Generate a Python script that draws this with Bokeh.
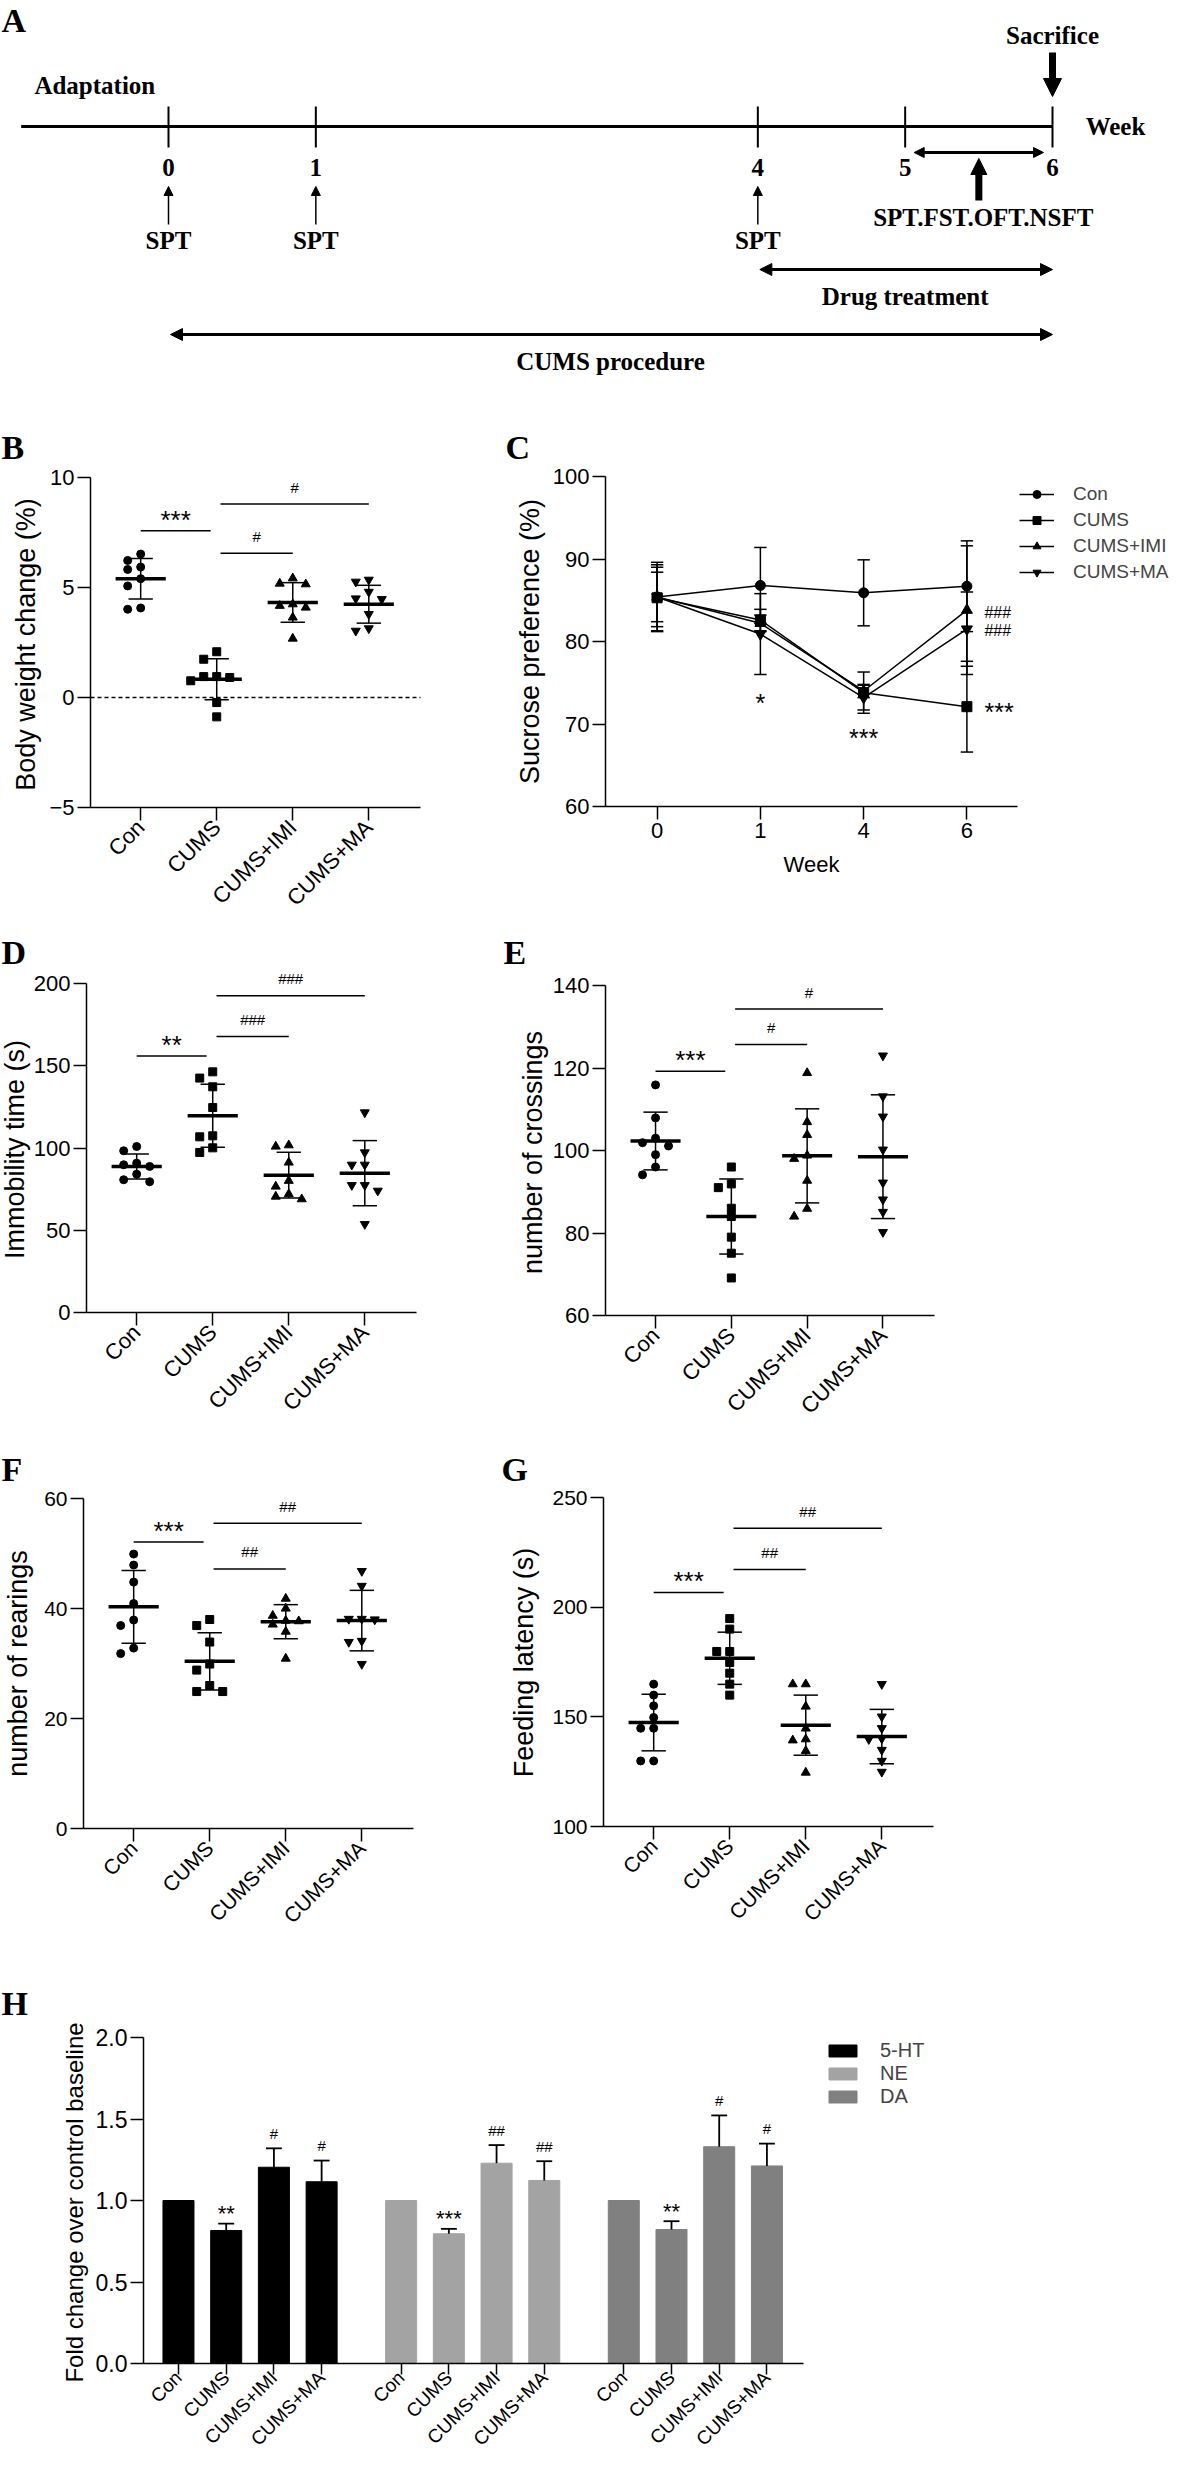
import math
from bokeh.plotting import figure
from bokeh.layouts import column, row
from bokeh.models import (Range1d, FixedTicker, Label, Arrow, NormalHead,
                          Legend, LegendItem, NumeralTickFormatter)
from bokeh.embed import file_html
from bokeh.resources import INLINE

SANS = "Liberation Sans"
SERIF = "Liberation Serif"

GROUPS = ["Con", "CUMS", "CUMS+IMI", "CUMS+MA"]
MARKERS = ["circle", "square", "triangle", "inverted_triangle"]

# ---------------- data ----------------
# A: experimental timeline (weeks)
TIMELINE_WEEKS = [0, 1, 4, 5, 6]
SPT_WEEKS = [0, 1, 4]
TEST_WINDOW = (5, 6)
DRUG_WINDOW = (4, 6)
CUMS_WINDOW = (0, 6)
SACRIFICE_WEEK = 6

# B: body weight change (%)
bw_con = [6.52, 6.23, 5.93, 5.82, 5.40, 5.07, 4.07, 4.01]
bw_cums = [2.08, 1.74, 0.95, 0.95, 0.91, 0.76, -0.23, -0.88]
bw_imi = [5.42, 5.18, 5.15, 4.24, 4.17, 4.09, 3.64, 2.68]
bw_ma = [5.35, 5.26, 4.80, 4.50, 4.47, 3.79, 3.14, 3.03]
bw_mean = [5.40, 0.83, 4.32, 4.24]
bw_sd = [0.92, 0.93, 0.90, 0.86]
bw_sig = [(0, 1, 7.58, "***"), (1, 2, 6.56, "#"), (1, 3, 8.79, "#")]

# C: sucrose preference (%)
sp_weeks = ["0", "1", "4", "6"]
sp_con = [85.4, 86.8, 85.9, 86.7]
sp_con_sd = [4.2, 4.6, 4.0, 5.5]
sp_cums = [85.3, 82.6, 73.8, 72.1]
sp_cums_sd = [4.0, 1.3, 2.5, 5.5]
sp_imi = [85.4, 82.2, 74.0, 83.8]
sp_imi_sd = [3.6, 1.0, 0.8, 7.8]
sp_ma = [85.4, 80.9, 73.2, 81.5]
sp_ma_sd = [3.0, 4.9, 1.5, 4.5]
sp_sig_below = [(1, "*", 73.2), (2, "***", 69.0)]
sp_sig_right = [("***", 72.1), ("###", 83.5), ("###", 81.3)]

# D: immobility time (s)
im_con = [100.9, 98.3, 90.8, 89.8, 88.8, 84.1, 80.7, 79.5]
im_cums = [146.3, 142.5, 137.2, 124.6, 107.4, 106.8, 100.1, 97.3]
im_imi = [101.7, 100.9, 91.2, 80.1, 76.6, 72.0, 70.5, 68.9]
im_ma = [121.6, 97.3, 89.8, 89.8, 77.4, 77.4, 74.0, 53.7]
im_mean = [88.8, 119.6, 83.5, 84.7]
im_sd = [7.6, 19.1, 13.9, 19.8]
im_sig = [(0, 1, 156.0, "**"), (1, 2, 167.8, "###"), (1, 3, 192.5, "###")]

# E: number of crossings
cr_con = [115.9, 107.9, 103.0, 101.9, 101.1, 99.0, 96.0, 94.1]
cr_cums = [96.0, 91.9, 91.0, 86.0, 84.0, 79.0, 75.1, 69.1]
cr_imi = [118.8, 106.9, 103.8, 98.8, 98.0, 92.7, 85.9, 84.0]
cr_ma = [123.0, 113.1, 108.2, 100.2, 92.2, 88.1, 85.1, 80.2]
cr_mean = [102.3, 84.0, 98.7, 98.5]
cr_sd = [7.0, 9.1, 11.4, 15.0]
cr_sig = [(0, 1, 119.2, "***"), (1, 2, 125.7, "#"), (1, 3, 134.3, "#")]

# F: number of rearings
re_con = [49.9, 47.9, 44.8, 40.9, 37.9, 36.9, 32.8, 31.8]
re_cums = [38.0, 36.9, 33.9, 29.9, 28.8, 26.0, 24.9, 24.9]
re_imi = [41.8, 40.0, 38.7, 37.8, 37.7, 37.1, 35.8, 30.9]
re_ma = [46.8, 44.1, 38.1, 38.1, 38.0, 34.1, 33.9, 29.9]
re_mean = [40.3, 30.4, 37.6, 37.8]
re_sd = [6.6, 5.2, 3.1, 5.5]
re_sig = [(0, 1, 52.1, "***"), (1, 2, 47.2, "##"), (1, 3, 55.5, "##")]

# G: feeding latency (s)
fl_con = [164.9, 159.9, 155.0, 149.7, 144.8, 144.8, 129.9, 129.9]
fl_cums = [194.8, 190.0, 179.8, 179.8, 174.8, 169.9, 164.9, 159.9]
fl_imi = [164.9, 164.9, 154.7, 144.7, 139.8, 139.3, 134.5, 124.6]
fl_ma = [164.9, 150.1, 144.8, 140.1, 139.8, 134.9, 129.9, 124.9]
fl_mean = [147.4, 176.7, 146.2, 141.0]
fl_sd = [12.9, 11.9, 13.7, 12.4]
fl_sig = [(0, 1, 206.7, "***"), (1, 2, 217.2, "##"), (1, 3, 236.0, "##")]

# H: monoamines, fold change over control
nt_names = ["5-HT", "NE", "DA"]
nt_colors = ["#000000", "#a3a3a3", "#808080"]
ht5_val = [1.0, 0.816, 1.204, 1.115]
ht5_err = [0.0, 0.042, 0.116, 0.130]
ne_val = [1.0, 0.796, 1.229, 1.123]
ne_err = [0.0, 0.030, 0.111, 0.118]
da_val = [1.0, 0.822, 1.330, 1.212]
da_err = [0.0, 0.051, 0.192, 0.137]
ht5_sig = ["", "**", "#", "#"]
ne_sig = ["", "***", "##", "##"]
da_sig = ["", "**", "#", "#"]


# ---------------- helpers ----------------
class Panel:
    """One figure covering a box of the page (reference pixels); the data window xr/yr
    is drawn inside `area`, and the axes sit at the edges of that window."""

    def __init__(self, box, area, xr, yr, axes=True):
        L, T, R, B = box
        self.area, self.xr, self.yr = area, xr, yr
        x0, y0 = self.data(L, B)
        x1, y1 = self.data(R, T)
        kw = {} if axes else dict(x_axis_type=None, y_axis_type=None)
        p = figure(width=R - L, height=B - T, x_range=Range1d(x0, x1),
                   y_range=Range1d(y0, y1), min_border=0, title=None,
                   output_backend="svg", toolbar_location=None, **kw)
        p.outline_line_color = None
        p.background_fill_color = "white"
        p.border_fill_color = "white"
        if axes:
            p.xgrid.visible = False
            p.ygrid.visible = False
            p.xaxis[0].fixed_location = yr[0]
            p.yaxis[0].fixed_location = xr[0]
            p.xaxis[0].bounds = xr
            p.yaxis[0].bounds = yr
        self.p = p

    def data(self, x_ref, y_ref):
        l, r, t, b = self.area
        x = self.xr[0] + (x_ref - l) / (r - l) * (self.xr[1] - self.xr[0])
        y = self.yr[1] - (y_ref - t) / (b - t) * (self.yr[1] - self.yr[0])
        return x, y

    def ppu_y(self):
        l, r, t, b = self.area
        return (b - t) / (self.yr[1] - self.yr[0])

    def ppu_x(self):
        l, r, t, b = self.area
        return (r - l) / (self.xr[1] - self.xr[0])

    def text(self, x_ref, y_ref, txt, size, font=SANS, style="normal", align="center",
             baseline="middle", angle=0.0):
        x, y = self.data(x_ref, y_ref)
        self.p.add_layout(Label(x=x, y=y, text=txt, text_align=align, text_baseline=baseline,
                                text_font=font, text_font_style=style,
                                text_font_size=f"{size}px", text_color="black", angle=angle))

    def letter(self, txt, x_ref, y_ref, size=34):
        self.text(x_ref, y_ref - 0.22 * size, txt, size, font=SERIF, style="bold",
                  align="left", baseline="top")

    def ylabel(self, txt, x_ref, y_ref, size):
        self.text(x_ref, y_ref, txt, size, angle=math.pi / 2)


def style_axes(p, xticks, xlabels, yticks, tick_size="22px", rotate=True):
    for ax in (p.xaxis[0], p.yaxis[0]):
        ax.axis_line_width = 1.5
        ax.axis_line_color = "black"
        ax.major_tick_line_width = 1.5
        ax.major_tick_line_color = "black"
        ax.major_tick_out = 13
        ax.major_tick_in = 0
        ax.minor_tick_out = 0
        ax.minor_tick_in = 0
        ax.major_label_text_font = SANS
        ax.major_label_text_font_size = tick_size
        ax.major_label_text_color = "black"
        ax.major_label_standoff = 3
    p.xaxis[0].ticker = FixedTicker(ticks=xticks)
    p.xaxis[0].major_label_overrides = {t: s for t, s in zip(xticks, xlabels)}
    if rotate:
        p.xaxis[0].major_label_orientation = math.pi / 4
    p.yaxis[0].ticker = FixedTicker(ticks=yticks)


def swarm(vals, px_per_unit, step, min_dy=8.0):
    order = sorted(range(len(vals)), key=lambda i: -vals[i])
    placed = []
    offs = [0.0] * len(vals)
    for i in order:
        for k in [0, -1, 1, -2, 2, -3, 3]:
            ok = all(not (pk == k and abs(vals[i] - pv) * px_per_unit < min_dy)
                     for pv, pk in placed)
            if ok:
                offs[i] = k * step
                placed.append((vals[i], k))
                break
    return offs


XR_DOT = (-0.66, 3.68)


def dot_panel(box, area, yr, yticks, groups_vals, means, sds, ylabel, ylab_pos, ylab_size,
              sig, letter, letter_pos, tick_size="22px", zero=False):
    P = Panel(box, area, XR_DOT, yr)
    p = P.p
    style_axes(p, [0, 1, 2, 3], GROUPS, yticks, tick_size=tick_size)
    if zero:
        p.segment([XR_DOT[0]], [0], [XR_DOT[1]], [0], line_dash="4 3", line_width=1.5,
                  color="black")
    ppu = P.ppu_y()
    step = 13.0 / P.ppu_x()
    sizes = [8, 8, 9, 9]
    for i, vals in enumerate(groups_vals):
        offs = swarm(vals, ppu, step)
        p.scatter([i + o for o in offs], vals, marker=MARKERS[i], size=sizes[i],
                  color="black")
        m, s = means[i], sds[i]
        p.segment([i - 0.33], [m], [i + 0.33], [m], line_width=3.5, color="black")
        p.segment([i], [m - s], [i], [m + s], line_width=1.5, color="black")
        p.segment([i - 0.16, i - 0.16], [m - s, m + s], [i + 0.16, i + 0.16], [m - s, m + s],
                  line_width=1.5, color="black")
    for a, b, yb, txt in sig:
        x0 = a + (0.05 if a else 0.0)
        x1 = b - (0.08 if b == 1 else 0.0)
        p.segment([x0], [yb], [x1], [yb], line_width=1.5, color="black")
        star = "*" in txt
        off = 11.0 if star else 17.0
        p.add_layout(Label(x=(x0 + x1) / 2, y=yb + off / ppu, text=txt,
                           text_align="center", text_baseline="middle", text_font=SANS,
                           text_font_size="26px" if star else "15px", text_color="black"))
    P.ylabel(ylabel, ylab_pos[0], ylab_pos[1], ylab_size)
    P.letter(letter, *letter_pos)
    return P


# ---------------- page geometry (reference pixels) ----------------
PAGE_L, PAGE_R, SPLIT = 8, 1182, 505
ROWS = [8, 430, 938, 1455, 1990, 2472]

# ---------------- A: timeline ----------------
PA = Panel((PAGE_L, ROWS[0], PAGE_R, ROWS[1]), (176, 1060, ROWS[0], ROWS[1]),
           (TIMELINE_WEEKS[0], TIMELINE_WEEKS[-1]), (ROWS[1], ROWS[0]), axes=False)
pa = PA.p
PX_WEEK = PA.ppu_x()
LINE_Y = 134
pa.line([-1, TIMELINE_WEEKS[-1]], [LINE_Y, LINE_Y], line_width=3, color="black")
pa.segment(TIMELINE_WEEKS, [LINE_Y - 20] * len(TIMELINE_WEEKS),
           TIMELINE_WEEKS, [LINE_Y + 21] * len(TIMELINE_WEEKS), line_width=2, color="black")


def a_text(x, y, txt, align="center", size="25px"):
    pa.add_layout(Label(x=x, y=y, text=txt, text_align=align, text_baseline="middle",
                        text_font=SERIF, text_font_style="bold", text_font_size=size,
                        text_color="black"))


def head(size):
    return NormalHead(size=size, fill_color="black", line_color="black")


for w in TIMELINE_WEEKS:
    a_text(w, 175, str(w))
a_text(TIMELINE_WEEKS[-1] + 0.225, LINE_Y, "Week", align="left")
a_text(-0.5, 93, "Adaptation")
a_text(SACRIFICE_WEEK, 43, "Sacrifice")
pa.add_layout(Arrow(end=head(18), x_start=SACRIFICE_WEEK, y_start=60,
                    x_end=SACRIFICE_WEEK, y_end=104, line_width=7, line_color="black"))
inset = 9 / PX_WEEK
pa.add_layout(Arrow(start=head(10), end=head(10),
                    x_start=TEST_WINDOW[0] + inset, y_start=160,
                    x_end=TEST_WINDOW[1] - inset, y_end=160, line_width=3, line_color="black"))
mid_test = sum(TEST_WINDOW) / 2
pa.add_layout(Arrow(end=head(16), x_start=mid_test, y_start=208, x_end=mid_test, y_end=166,
                    line_width=7, line_color="black"))
a_text(mid_test + 0.03, 225, "SPT.FST.OFT.NSFT")
for w in SPT_WEEKS:
    pa.add_layout(Arrow(end=head(9), x_start=w, y_start=232, x_end=w, y_end=194,
                        line_width=1.5, line_color="black"))
    a_text(w, 248, "SPT")
for (w0, w1), yy, txt, ty in [(DRUG_WINDOW, 277, "Drug treatment", 304),
                              (CUMS_WINDOW, 342, "CUMS procedure", 369)]:
    pa.add_layout(Arrow(start=head(12), end=head(12),
                        x_start=w0 + 2 / PX_WEEK, y_start=yy, x_end=w1, y_end=yy,
                        line_width=3, line_color="black"))
    a_text((w0 + w1) / 2, ty, txt)
PA.letter("A", 9, 17)

# ---------------- B ----------------
PB = dot_panel((PAGE_L, ROWS[1], SPLIT, ROWS[2]), (98, 428, 485, 815), (-5, 10),
               [-5, 0, 5, 10], [bw_con, bw_cums, bw_imi, bw_ma], bw_mean, bw_sd,
               "Body weight change (%)", (33, 652), 27, bw_sig, "B", (9, 444), zero=True)

# ---------------- C ----------------
PC = Panel((SPLIT, ROWS[1], PAGE_R, ROWS[2]), (613, 1025, 484, 814), (-0.5, 3.49), (60, 100))
pc = PC.p
style_axes(pc, [0, 1, 2, 3], sp_weeks, [60, 70, 80, 90, 100], rotate=False)
PC.ylabel("Sucrose preference (%)", 537, 649, 27)
PC.text(819, 872, "Week", 22)
xs = [0, 1, 2, 3]
series = [("Con", sp_con, sp_con_sd, "circle", 10),
          ("CUMS", sp_cums, sp_cums_sd, "square", 10),
          ("CUMS+IMI", sp_imi, sp_imi_sd, "triangle", 11),
          ("CUMS+MA", sp_ma, sp_ma_sd, "inverted_triangle", 11)]
for name, vals, sd, mk, sz in series:
    lo = [v - s for v, s in zip(vals, sd)]
    hi = [v + s for v, s in zip(vals, sd)]
    pc.segment(xs, lo, xs, hi, line_width=1.5, color="black")
    pc.segment([x - 0.06 for x in xs] * 2, lo + hi, [x + 0.06 for x in xs] * 2, lo + hi,
               line_width=1.5, color="black")
items = []
for name, vals, sd, mk, sz in series:
    rl = pc.line(xs, vals, line_width=1.5, color="black")
    rs = pc.scatter(xs, vals, marker=mk, size=sz, color="black")
    items.append(LegendItem(label=name, renderers=[rl, rs]))
leg = Legend(items=items, location=(1027 - SPLIT, 347), glyph_width=35,
             glyph_height=20, label_height=20, spacing=4, padding=0, margin=0,
             border_line_alpha=0, background_fill_alpha=0, label_text_font=SANS,
             label_text_font_size="19px", label_standoff=19)
pc.add_layout(leg)
cppu = PC.ppu_y()
for wi, txt, yv in sp_sig_below:
    pc.add_layout(Label(x=wi, y=yv - 5.5 / cppu, text=txt, text_align="center",
                        text_baseline="middle", text_font=SANS, text_font_size="25px",
                        text_color="black"))
for txt, yv in sp_sig_right:
    star = "*" in txt
    pc.add_layout(Label(x=3.17, y=yv - (5.5 if star else 0) / cppu, text=txt,
                        text_align="left", text_baseline="middle", text_font=SANS,
                        text_font_size="25px" if star else "16px", text_color="black"))
PC.letter("C", 513, 444)

# ---------------- D / E ----------------
PD = dot_panel((PAGE_L, ROWS[2], SPLIT, ROWS[3]), (94, 424, 991, 1320), (0, 200),
               [0, 50, 100, 150, 200], [im_con, im_cums, im_imi, im_ma], im_mean, im_sd,
               "Immobility time (s)", (22, 1157), 27, im_sig, "D", (9, 949))
PE = dot_panel((SPLIT, ROWS[2], PAGE_R, ROWS[3]), (613, 942, 993, 1323), (60, 140),
               [60, 80, 100, 120, 140], [cr_con, cr_cums, cr_imi, cr_ma], cr_mean, cr_sd,
               "number of crossings", (540, 1160), 27, cr_sig, "E", (511, 949))

# ---------------- F / G ----------------
PF = dot_panel((PAGE_L, ROWS[3], SPLIT, ROWS[4]), (91, 421, 1506, 1836), (0, 60),
               [0, 20, 40, 60], [re_con, re_cums, re_imi, re_ma], re_mean, re_sd,
               "number of rearings", (25, 1671), 27, re_sig, "F", (9, 1466), tick_size="21px")
PG = dot_panel((SPLIT, ROWS[3], PAGE_R, ROWS[4]), (611, 941, 1505, 1834), (100, 250),
               [100, 150, 200, 250], [fl_con, fl_cums, fl_imi, fl_ma], fl_mean, fl_sd,
               "Feeding latency (s)", (531, 1670), 27, fl_sig, "G", (509, 1466),
               tick_size="21px")

# ---------------- H ----------------
GROUP_STEP, BAR_STEP = 14, 3
PH = Panel((PAGE_L, ROWS[4], PAGE_R, ROWS[5]), (151, 811, 2045, 2371), (-2.2, 39.3), (0, 2))
ph = PH.p
bar_x = [g * GROUP_STEP + BAR_STEP * i for g in range(3) for i in range(4)]
style_axes(ph, bar_x, GROUPS * 3, [0, 0.5, 1.0, 1.5, 2.0], tick_size="23px")
ph.yaxis[0].formatter = NumeralTickFormatter(format="0.0")
ph.xaxis[0].major_label_standoff = 0
ph.xaxis[0].major_tick_out = 11
ph.xaxis[0].major_label_text_font_size = "19px"
PH.ylabel("Fold change over control baseline", 82, 2210, 24)
hppu = PH.ppu_y()
h_items = []
for g, (name, vals, errs, col, sig) in enumerate(zip(nt_names, [ht5_val, ne_val, da_val],
                                                     [ht5_err, ne_err, da_err], nt_colors,
                                                     [ht5_sig, ne_sig, da_sig])):
    gx = [g * GROUP_STEP + BAR_STEP * i for i in range(4)]
    r = ph.vbar(x=gx, top=vals, width=1.95, fill_color=col, line_color=col)
    h_items.append(LegendItem(label=name, renderers=[r]))
    ex = [x for x, e in zip(gx, errs) if e > 0]
    ev = [v for v, e in zip(vals, errs) if e > 0]
    et = [v + e for v, e in zip(vals, errs) if e > 0]
    ph.segment(ex, ev, ex, et, line_width=1.8, color="black")
    ph.segment([x - 0.5 for x in ex], et, [x + 0.5 for x in ex], et, line_width=1.8,
               color="black")
    for x, v, e, s in zip(gx, vals, errs, sig):
        if not s:
            continue
        star = "*" in s
        ph.add_layout(Label(x=x, y=v + e + (10.0 if star else 15.0) / hppu, text=s,
                            text_align="center", text_baseline="middle", text_font=SANS,
                            text_font_size="22px" if star else "15px", text_color="black"))
hleg = Legend(items=h_items, location=(833 - PAGE_L, 356), glyph_width=35,
              glyph_height=15, label_height=18, spacing=0, padding=0, margin=0,
              border_line_alpha=0, background_fill_alpha=0, label_text_font=SANS,
              label_text_font_size="20px", label_standoff=20)
ph.add_layout(hleg)
PH.letter("H", 9, 2000)

layout = column(pa, row(PB.p, pc), row(PD.p, PE.p), row(PF.p, PG.p), ph)
open("out.html", "w").write(file_html(layout, INLINE))
